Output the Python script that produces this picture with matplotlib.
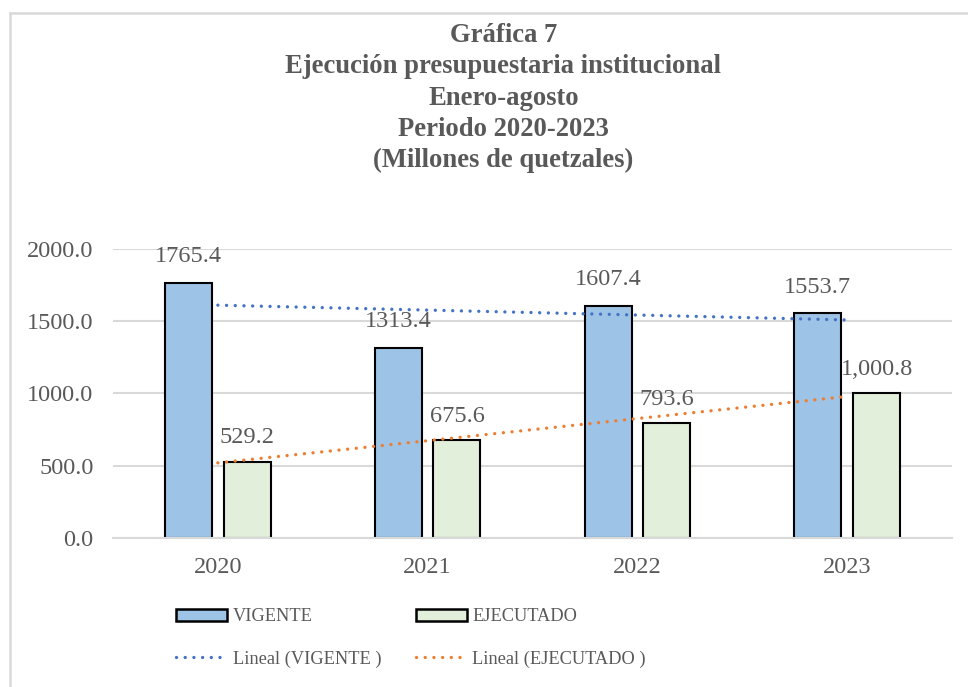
import matplotlib.pyplot as plt
import numpy as np
from matplotlib.patches import Patch
from matplotlib.lines import Line2D

# data
years = ['2020', '2021', '2022', '2023']
vigente = [1765.4, 1313.4, 1607.4, 1553.7]
ejecutado = [529.2, 675.6, 793.6, 1000.8]
vig_labels = ['1765.4', '1313.4', '1607.4', '1553.7']
eje_labels = ['529.2', '675.6', '793.6', '1,000.8']
yticks = [0, 500, 1000, 1500, 2000]

plt.rcParams['font.family'] = ['Liberation Serif', 'DejaVu Serif']
txt = '#595959'
c_vig = '#9DC3E6'
c_eje = '#E2EFDA'
c_tvig = '#4472C4'
c_teje = '#ED7D31'

fig = plt.figure(figsize=(9.68, 6.87), dpi=100)
ax = fig.add_axes([0.1167, 0.2169, 0.8668, 0.4207])

x = np.arange(len(years))
w = 0.224
off = 0.14
ax.bar(x - off, vigente, w, color=c_vig, edgecolor='black', linewidth=1.5, zorder=2)
ax.bar(x + off, ejecutado, w, color=c_eje, edgecolor='black', linewidth=1.5, zorder=2)

# linear trendlines (like Excel "Lineal")
for vals, col in ((vigente, c_tvig), (ejecutado, c_teje)):
    m, b = np.polyfit(x, vals, 1)
    ax.plot(x, m * x + b, color=col, linewidth=2.4, dashes=(0.01, 2.6),
            dash_capstyle='round', zorder=3)

for i in range(len(years)):
    ax.annotate(vig_labels[i], (x[i] - off, vigente[i]), xytext=(0, 19),
                textcoords='offset points', ha='center', va='center',
                fontsize=17.5, color=txt)
    ax.annotate(eje_labels[i], (x[i] + off, ejecutado[i]), xytext=(0, 17),
                textcoords='offset points', ha='center', va='center',
                fontsize=17.5, color=txt)

ax.set_xlim(-0.5, 3.5)
ax.set_ylim(0, 2000)
ax.set_yticks(yticks)
ax.set_yticklabels([f'{v:.1f}' for v in yticks])
ax.set_xticks(x)
ax.set_xticklabels(years)
ax.tick_params(length=0, labelsize=17.5, colors=txt)
ax.tick_params(axis='y', pad=14)
ax.tick_params(axis='x', pad=14)
ax.grid(axis='y', color='#D9D9D9', linewidth=1.5, zorder=0)
for s in ['top', 'right', 'left']:
    ax.spines[s].set_visible(False)
ax.spines['bottom'].set_color('#D9D9D9')
ax.spines['bottom'].set_linewidth(1.5)

fig.text(0.52, 0.857, 'Gráfica 7\nEjecución presupuestaria institucional\nEnero-agosto\n'
         'Periodo 2020-2023\n(Millones de quetzales)', ha='center', va='center',
         fontsize=19.2, fontweight='bold', color=txt, linespacing=1.33)

handles = [Patch(facecolor=c_vig, edgecolor='black', linewidth=1.8),
           Line2D([], [], color=c_tvig, linewidth=2.4, dashes=(0.01, 2.6), dash_capstyle='round'),
           Patch(facecolor=c_eje, edgecolor='black', linewidth=1.8),
           Line2D([], [], color=c_teje, linewidth=2.4, dashes=(0.01, 2.6), dash_capstyle='round')]
labels = ['VIGENTE', 'Lineal (VIGENTE )', 'EJECUTADO', 'Lineal (EJECUTADO )']
leg = fig.legend(handles, labels, ncol=2, loc='center', bbox_to_anchor=(0.4246, 0.0713),
                 frameon=False, fontsize=13.2, handlelength=2.8, handleheight=0.7,
                 handletextpad=0.28, columnspacing=1.9, labelspacing=1.35)
for t in leg.get_texts():
    t.set_color(txt)

# chart border (left and top only visible)
fig.add_artist(Line2D([0.0108, 0.0108], [0, 0.9818], transform=fig.transFigure,
                      color='#D9D9D9', linewidth=1.8))
fig.add_artist(Line2D([0.0108, 1], [0.9818, 0.9818], transform=fig.transFigure,
                      color='#D9D9D9', linewidth=1.8))

fig.savefig('out.png', dpi=100)
